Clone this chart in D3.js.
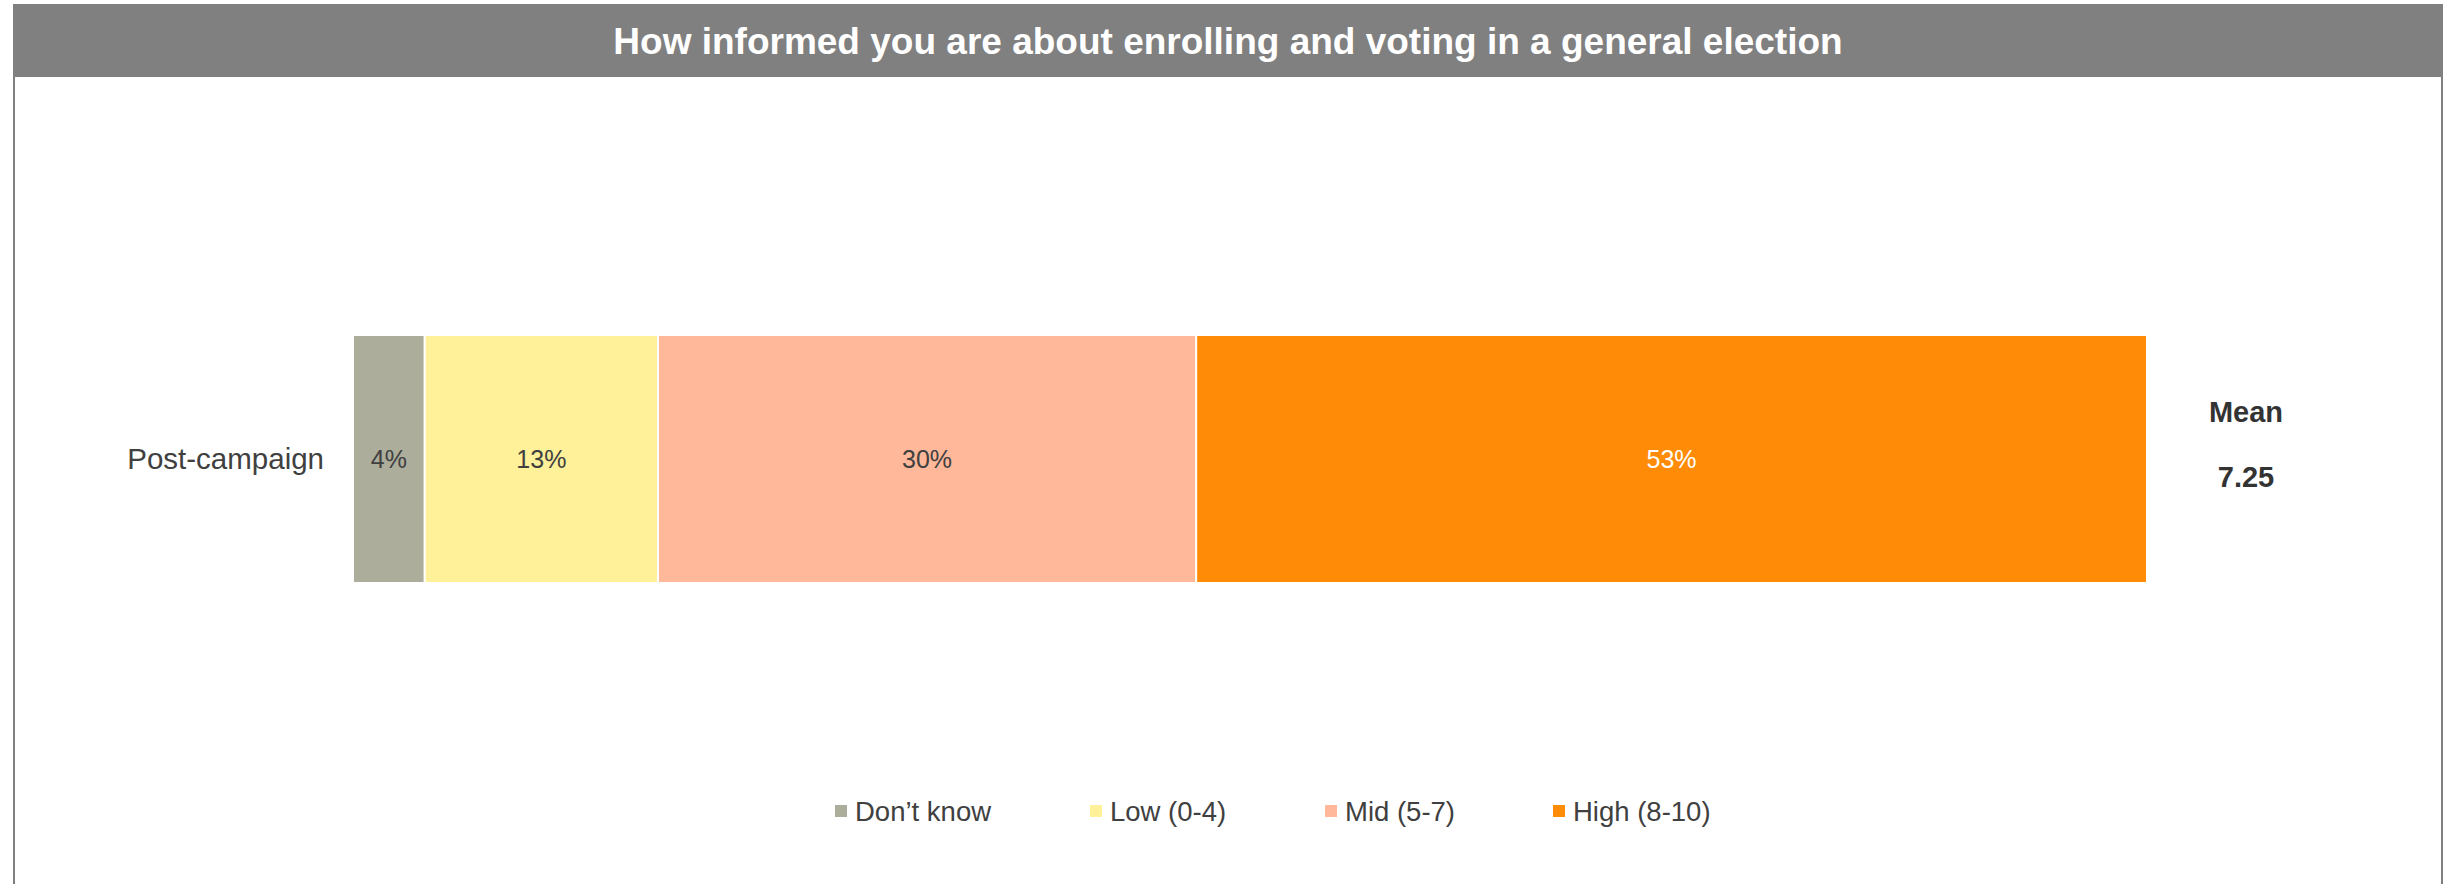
<!DOCTYPE html>
<html>
<head>
<meta charset="utf-8">
<script src="https://cdn.jsdelivr.net/npm/d3@7"></script>
<style>
  html, body { margin: 0; padding: 0; background: #fff; }
  svg { display: block; font-family: "Liberation Sans", Arial, sans-serif; }
</style>
</head>
<body>
<svg id="chart" width="2443" height="884"></svg>
<script>
// Chart content
const chartTitle = "How informed you are about enrolling and voting in a general election";
const categories = ["Post-campaign"];
const seriesNames = ["Don\u2019t know", "Low (0-4)", "Mid (5-7)", "High (8-10)"];
const seriesColors = ["#adad9c", "#fff09a", "#ffb899", "#ff8b06"];
const labelColors = ["#404040", "#404040", "#404040", "#ffffff"];
const dontKnow = [4];
const low = [13];
const mid = [30];
const high = [53];
const meanLabel = "Mean";
const meanValues = [7.25];

const W = 2443, H = 884;
const svg = d3.select("#chart");

// Frame: grey border around the plot area and the title banner
svg.append("rect")
  .attr("x", 14).attr("y", 5).attr("width", W - 15).attr("height", H + 10)
  .attr("fill", "#fff").attr("stroke", "#808080").attr("stroke-width", 2);
svg.append("rect")
  .attr("x", 13).attr("y", 5).attr("width", W - 13).attr("height", 72)
  .attr("fill", "#808080");
svg.append("text")
  .attr("x", (13 + W) / 2).attr("y", 54)
  .attr("text-anchor", "middle")
  .attr("fill", "#fff").attr("font-weight", "bold").attr("font-size", 37)
  .text(chartTitle);

// Scales
const x = d3.scaleLinear().domain([0, 100]).range([353, 2147]);
const y = d3.scaleBand().domain(categories).range([211, 707])
  .paddingInner(0).paddingOuter(0.5);

// Stack the series
const rows = categories.map((c, i) => {
  const r = { category: c };
  r[seriesNames[0]] = dontKnow[i];
  r[seriesNames[1]] = low[i];
  r[seriesNames[2]] = mid[i];
  r[seriesNames[3]] = high[i];
  return r;
});
const stacked = d3.stack().keys(seriesNames)(rows);

const layers = svg.append("g").selectAll("g")
  .data(stacked).join("g")
  .attr("fill", (d, i) => seriesColors[i]);

layers.selectAll("rect")
  .data(d => d.map(p => ({ p, key: d.key })))
  .join("rect")
  .attr("x", d => x(d.p[0]))
  .attr("y", d => y(d.p.data.category))
  .attr("width", d => x(d.p[1]) - x(d.p[0]))
  .attr("height", y.bandwidth())
  .attr("stroke", "#fff").attr("stroke-width", 2);

// Value labels inside segments
layers.each(function (layer, li) {
  d3.select(this).selectAll("text")
    .data(layer)
    .join("text")
    .attr("x", p => (x(p[0]) + x(p[1])) / 2)
    .attr("y", p => y(p.data.category) + y.bandwidth() / 2)
    .attr("dy", "0.35em")
    .attr("text-anchor", "middle")
    .attr("font-size", 25)
    .attr("fill", labelColors[li])
    .text(p => (p[1] - p[0]) + "%");
});

// Category axis (labels only)
const yAxis = svg.append("g")
  .attr("transform", "translate(324,0)")
  .call(d3.axisLeft(y).tickSize(0).tickPadding(0));
yAxis.select(".domain").remove();
yAxis.selectAll("text")
  .attr("font-size", 29.5)
  .attr("font-family", "Liberation Sans, Arial, sans-serif")
  .attr("fill", "#404040")
  .attr("dy", "0.35em");

// Mean column
svg.append("text")
  .attr("x", 2246).attr("y", 422)
  .attr("text-anchor", "middle")
  .attr("font-weight", "bold").attr("font-size", 29).attr("fill", "#333")
  .text(meanLabel);
svg.selectAll(".mean-val")
  .data(categories)
  .join("text")
  .attr("class", "mean-val")
  .attr("x", 2246)
  .attr("y", (c, i) => y(c) + y.bandwidth() / 2 + 28)
  .attr("text-anchor", "middle")
  .attr("font-weight", "bold").attr("font-size", 29).attr("fill", "#333")
  .text((c, i) => meanValues[i].toFixed(2));

// Legend
const legendX = [835, 1090, 1325, 1553];
const legend = svg.append("g").selectAll("g")
  .data(seriesNames).join("g")
  .attr("transform", (d, i) => `translate(${legendX[i]},805)`);
legend.append("rect")
  .attr("width", 12).attr("height", 12)
  .attr("fill", (d, i) => seriesColors[i]);
legend.append("text")
  .attr("x", 20).attr("y", 6).attr("dy", "0.35em")
  .attr("font-size", 27.5).attr("fill", "#404040")
  .text(d => d);
</script>
</body>
</html>
